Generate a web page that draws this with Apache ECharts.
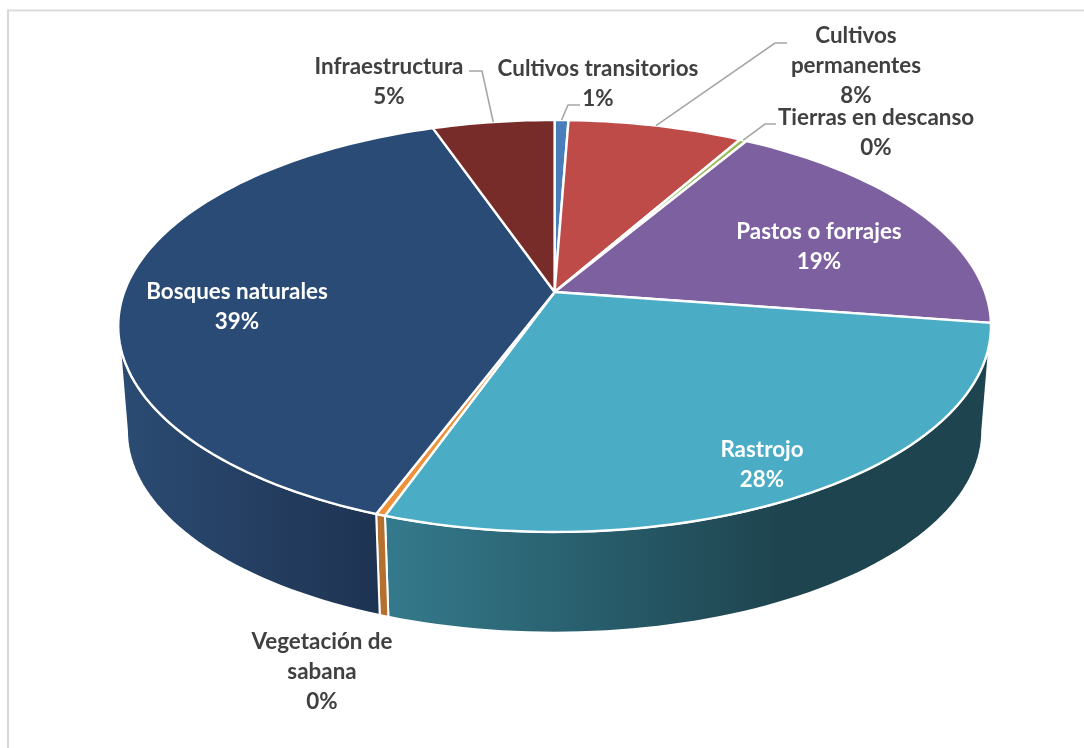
<!DOCTYPE html>
<html><head><meta charset="utf-8">
<style>html,body{margin:0;padding:0;background:#fff}#c{width:1084px;height:748px}</style>
<script src="https://cdn.jsdelivr.net/npm/echarts@6/dist/echarts.min.js"></script>
</head><body><div id="c"></div>
<script>
// Data, clockwise from the top of the pie
const categories = ['Cultivos transitorios','Cultivos\npermanentes','Tierras en descanso','Pastos o forrajes','Rastrojo','Vegetación de\nsabana','Bosques naturales','Infraestructura'];
const values = [0.6, 7.6, 0.3, 18.9, 28.0, 0.3, 39.0, 5.3];

// Styling and layout
const topColors = ['#4a7ebb','#be4b48','#98b954','#7d60a0','#4aacc5','#f0913a','#2a4b76','#772c2a'];
const wallStops = [
  ['#3a6490','#3a6490'],['#8a3836','#8a3836'],['#70893e','#70893e'],['#5c4776','#5c4776'],
  ['#347a8c','#1e444f'],['#b5702f','#b5702f'],['#2b4b72','#1e3352'],['#581f1e','#581f1e']
];
const wallGradientX = [[0,0],[0,0],[0,0],[0,0],[385,780],[0,0],[125,380],[0,0]];
const labelAnchors = [[598,69],[856,36],[876,118],[819,232],[762,450],[322,642],[237,292],[389,67]];
const labelLines = [30,30,30,30,30,30,30,30];
const labelColors = ['#404040','#404040','#404040','#fff','#fff','#404040','#fff','#404040'];
// Leader bends: [elbow, label end]; the start is found from the slice itself
const leaders = [[[568,105],[580,105]],[[775,43],[787,43]],[[765,124],[776,124]],null,null,null,null,[[482,71],[469,71]]];

const geo = {cx:554.6, cy:292, A:430.4, B:200.4, k:0.165, scale:0.98, drop:105.5, frontFrom:99.5, frontTo:260.5};
const FONT = 'bold 22.4px Lato';
const total = values.reduce((a,b)=>a+b,0);

function project(deg, bottom){
  const r = deg*Math.PI/180, ux = Math.sin(r), uy = Math.cos(r), d = 1+geo.k*uy;
  const s = bottom ? geo.scale : 1;
  return [geo.cx + s*geo.A*ux/d, geo.cy + (bottom?geo.drop:0) - s*geo.B*uy/d];
}
function range(i){
  let start = 0;
  for(let j=0;j<i;j++) start += values[j];
  return [start/total*360, (start+values[i])/total*360];
}
function arc(a0,a1,bottom){
  const n = Math.max(2,Math.ceil(Math.abs(a1-a0)/1.5)), out=[];
  for(let i=0;i<=n;i++) out.push(project(a0+(a1-a0)*i/n,bottom));
  return out;
}
function renderWall(params){
  const i = params.dataIndex, [a0,a1] = range(i);
  const s = Math.max(a0,geo.frontFrom), e = Math.min(a1,geo.frontTo);
  if(e<=s) return {type:'group',children:[]};
  const pts = arc(s,e,false).concat(arc(e,s,true));
  const gx = wallGradientX[i];
  const same = wallStops[i][0]===wallStops[i][1];
  return {type:'polygon', shape:{points:pts}, style:{
    fill: same ? wallStops[i][0] : {type:'linear',x:gx[0],y:0,x2:gx[1],y2:0,global:true,
      colorStops:[{offset:0,color:wallStops[i][0]},{offset:1,color:wallStops[i][1]}]},
    stroke:'#fff', lineWidth:2, lineJoin:'round'}};
}
function renderTop(params){
  const i = params.dataIndex, [a0,a1] = range(i);
  const pts = [[geo.cx,geo.cy]].concat(arc(a0,a1,false));
  return {type:'polygon', shape:{points:pts}, style:{fill:topColors[i], stroke:'#fff', lineWidth:2.4, lineJoin:'round'}};
}
function renderLabel(params, api){
  const i = params.dataIndex, [a0,a1] = range(i), kids=[];
  const pct = Math.round(api.value(0)/total*100)+'%';
  if(leaders[i]){
    const st = project((a0+a1)/2,false);
    kids.push({type:'polyline', shape:{points:[st].concat(leaders[i])}, style:{fill:'none',stroke:'#a6a6a6',lineWidth:1.6}});
  }
  const [x,y] = labelAnchors[i];
  kids.push({type:'text', x, y:y-labelLines[i]/2, style:{
    text:categories[i]+'\n'+pct, fill:labelColors[i], font:FONT, align:'center', verticalAlign:'top', lineHeight:labelLines[i]}});
  return {type:'group',children:kids};
}
const chart = echarts.init(document.getElementById('c'),null,{renderer:'canvas'});
const seriesData = values.map(v=>[v]);
chart.setOption({
  animation:false, backgroundColor:'#fff',
  graphic:[
    {type:'line',shape:{x1:7,y1:10.5,x2:1084,y2:10.5},style:{stroke:'#dcdcdc',lineWidth:2},silent:true},
    {type:'line',shape:{x1:8,y1:10,x2:8,y2:748},style:{stroke:'#d6d6d6',lineWidth:2},silent:true}
  ],
  series:[
    {type:'custom',coordinateSystem:'none',renderItem:renderWall,data:seriesData,z:1,silent:true},
    {type:'custom',coordinateSystem:'none',renderItem:renderTop,data:seriesData,z:2,silent:true},
    {type:'custom',coordinateSystem:'none',renderItem:renderLabel,data:seriesData,z:3,silent:true}
  ]
});
</script></body></html>
